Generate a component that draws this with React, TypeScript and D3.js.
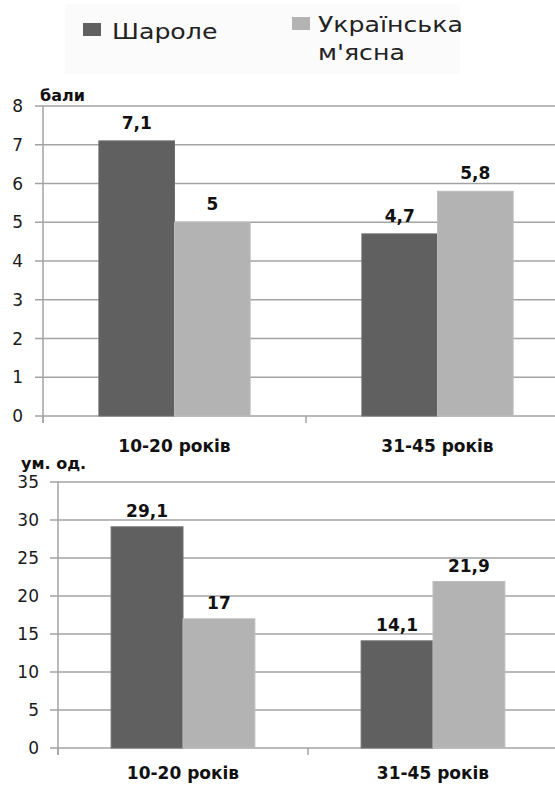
import React from "react";
import * as d3 from "d3";

const categories = ["10-20 років", "31-45 років"];
const series = ["Шароле", "Українська м'ясна"];
const scoreSharole = [7.1, 4.7];
const scoreUkr = [5, 5.8];
const unitSharole = [29.1, 14.1];
const unitUkr = [17, 21.9];
const scoreTicks = [0, 1, 2, 3, 4, 5, 6, 7, 8];
const unitTicks = [0, 5, 10, 15, 20, 25, 30, 35];
const colors = ["#606060", "#b3b3b3"];

const fmt = (v: number) => String(v).replace(".", ",");

type ChartProps = {
  values: number[][];
  ticks: number[];
  yMax: number;
  top: number;
  bottom: number;
  left: number;
  right: number;
  unitLabel: string;
  unitX: number;
  unitY: number;
  tickLabelX: number;
  catLabelY: number;
  labelGap: number;
};

function Chart(p: ChartProps) {
  const y = d3.scaleLinear().domain([0, p.yMax]).range([p.bottom, p.top]);
  const x0 = d3
    .scaleBand<string>()
    .domain(categories)
    .range([p.left, p.right])
    .paddingInner(0.425)
    .paddingOuter(0.2125);
  const x1 = d3.scaleBand<string>().domain(series).range([0, x0.bandwidth()]);
  const step = x0.step();
  return (
    <g>
      {p.ticks.map((t) => (
        <g key={t}>
          <line x1={p.left - 8} x2={560} y1={y(t)} y2={y(t)} stroke="#a3a3a3" strokeWidth={1.5} />
          <text
            x={p.tickLabelX}
            y={y(t)}
            dy="0.36em"
            textAnchor="end"
            fontFamily="DejaVu Sans"
            fontSize={17}
            fill="#1a1a1a"
          >
            {t}
          </text>
        </g>
      ))}
      <line x1={p.left} x2={p.left} y1={p.top} y2={p.bottom + 7} stroke="#a3a3a3" strokeWidth={1.5} />
      {[0, 1, 2].map((i) => (
        <line
          key={i}
          x1={p.left + i * step}
          x2={p.left + i * step}
          y1={p.bottom}
          y2={p.bottom + 7}
          stroke="#a3a3a3"
          strokeWidth={1.5}
        />
      ))}
      {categories.map((c, ci) => (
        <g key={c}>
          {series.map((s, si) => {
            const v = p.values[si][ci];
            const bx = (x0(c) as number) + (x1(s) as number);
            return (
              <g key={s}>
                <rect
                  x={bx}
                  y={y(v)}
                  width={x1.bandwidth()}
                  height={p.bottom - y(v)}
                  fill={colors[si]}
                  stroke={si === 0 ? "#6e6e6e" : "#bdbdbd"}
                  strokeWidth={1}
                />
                <text
                  x={bx + x1.bandwidth() / 2}
                  y={y(v) - p.labelGap}
                  textAnchor="middle"
                  fontFamily="DejaVu Sans"
                  fontWeight="bold"
                  fontSize={17}
                  fill="#111"
                >
                  {fmt(v)}
                </text>
              </g>
            );
          })}
          <text
            x={(x0(c) as number) + x0.bandwidth() / 2}
            y={p.catLabelY}
            textAnchor="middle"
            fontFamily="DejaVu Sans"
            fontWeight="bold"
            fontSize={17}
            fill="#111"
          >
            {c}
          </text>
        </g>
      ))}
      <text
        x={p.unitX}
        y={p.unitY}
        fontFamily="DejaVu Sans"
        fontWeight="bold"
        fontSize={16}
        fill="#111"
      >
        {p.unitLabel}
      </text>
    </g>
  );
}

export default function App() {
  return (
    <svg
      width={555}
      height={785}
      style={{ position: "absolute", left: 0, top: 0, background: "#fff" }}
    >
      <rect x={0} y={0} width={555} height={785} fill="#fff" />
      <rect x={65} y={4} width={395} height={70} fill="#fbfbfb" />
      <rect x={83} y={23} width={18} height={13} fill={colors[0]} />
      <text transform="translate(112,39) scale(1.2,1)" fontFamily="DejaVu Sans" fontSize={21} fill="#222">
        Шароле
      </text>
      <rect x={292} y={17} width={18} height={13} fill={colors[1]} />
      <text transform="translate(318,32) scale(1.2,1)" fontFamily="DejaVu Sans" fontSize={21} fill="#222">
        Українська
      </text>
      <text transform="translate(318,60) scale(1.2,1)" fontFamily="DejaVu Sans" fontSize={21} fill="#222">
        м'ясна
      </text>
      <Chart
        values={[scoreSharole, scoreUkr]}
        ticks={scoreTicks}
        yMax={8}
        top={106}
        bottom={416}
        left={43}
        right={569}
        unitLabel="бали"
        unitX={40}
        unitY={101}
        tickLabelX={23}
        catLabelY={452}
        labelGap={12}
      />
      <Chart
        values={[unitSharole, unitUkr]}
        ticks={unitTicks}
        yMax={35}
        top={482}
        bottom={748}
        left={58}
        right={558}
        unitLabel="ум. од."
        unitX={21}
        unitY={469}
        tickLabelX={39}
        catLabelY={779}
        labelGap={10}
      />
    </svg>
  );
}
